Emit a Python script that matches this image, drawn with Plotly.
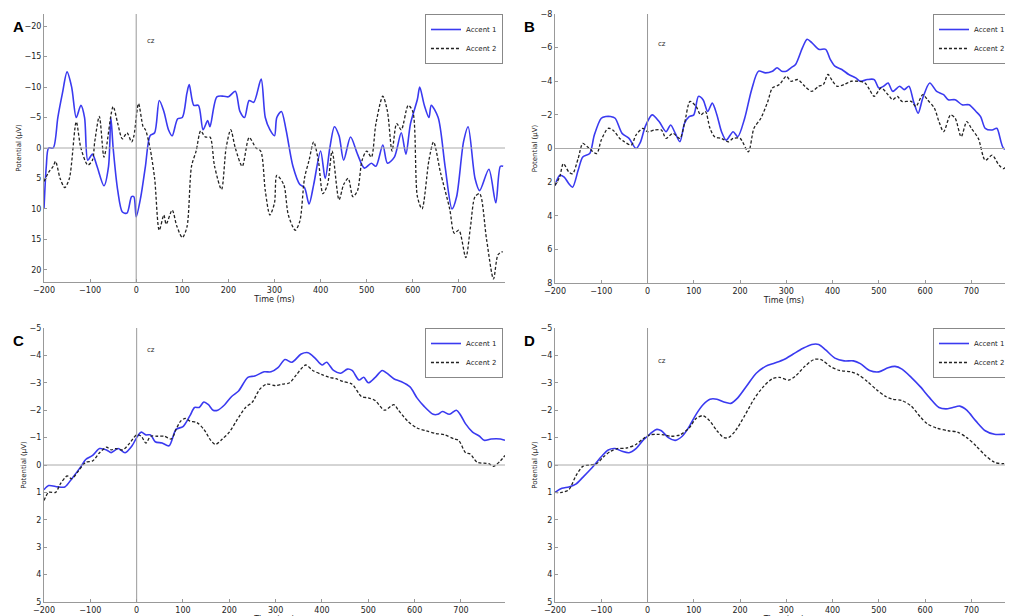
import plotly.graph_objects as go

# ---- Panel A ----
a_blue_t = [-200,-195,-190,-180,-170,-160,-150,-140,-130,-120,-112,-105,-95,-85,-70,-60,-55,-50,-40,-30,-20,-10,-5,0,10,20,30,40,50,60,70,78,90,100,110,115,125,135,145,155,160,175,190,200,215,225,235,245,255,271,280,290,300,305,315,325,340,355,365,375,385,400,410,420,430,440,450,465,480,495,510,520,535,545,560,575,585,595,610,615,625,635,640,655,670,685,695,710,720,735,745,765,780,790,796]
a_blue_v = [10,3,0,0,-5,-9,-12.5,-10,-5,-7,-5,2,1,3,6.2,3,-5,0,7,10.5,10.7,8,8,11.3,8,3,-2,-2.5,-7.8,-6,-3,-2,-4.8,-5,-9,-10.4,-7,-7,-3,-4.5,-3.5,-8.4,-8.5,-8.4,-9.3,-6,-5,-7.8,-7.5,-11.3,-5,-3,-2,-5,-6,-3,3,6,6.5,9.2,6,0.5,5,0,-3.5,-2,2,-1.8,1,3.3,2.5,3,-0.5,2.5,1.5,-2.5,1,-4,-8,-10,-7,-5,-7,-5,3,10,8,-1,-3.5,5,7,3.5,9,3,3]
a_black_t = [-200,-190,-180,-175,-165,-155,-145,-130,-120,-105,-95,-90,-80,-70,-65,-50,-40,-30,-20,-10,-5,5,15,20,30,40,50,60,65,78,88,100,110,120,130,140,150,160,170,185,195,205,215,230,245,260,270,280,290,300,305,320,330,345,355,365,375,385,395,405,415,425,440,450,460,470,480,490,500,510,520,535,545,555,565,575,590,600,610,620,635,645,660,680,690,700,715,725,735,745,760,775,785,795]
a_black_v = [5.5,4,3,2.2,5,6.5,5,-4.3,0,2.8,2,-1,-5.2,1.5,0,-6.8,-4,-1.5,-2.5,-1,-2,-7.3,-3.5,-3,0,5,13.5,11,12.5,10.2,12.8,14.7,13,3,0.5,-2.8,-1.8,-1.8,3,6.8,0,-3,0,3,-1.7,0,0.5,7,11,9,4.5,6,11,13.5,12,5,2,-1,2,7.5,6,0.5,8.5,6,5,8,7,2,0.5,1.5,-4,-8.5,-6,0.5,-4,-3,-7,-6,8,10,2,-1,4,10,14,13.5,18,13,8,7.5,15,21.5,17.5,17]

# ---- Panel B ----
b_blue_t = [-200,-190,-180,-170,-162,-150,-140,-125,-115,-100,-90,-80,-70,-55,-40,-25,-15,-5,10,25,40,50,60,70,80,90,100,110,120,130,140,150,160,170,185,195,210,225,240,255,270,280,290,300,310,320,335,345,355,370,385,395,405,420,435,450,460,475,490,500,510,520,530,545,555,565,575,585,595,610,625,640,650,665,680,695,710,720,730,745,755,770,790]
b_blue_v = [2.2,1.6,1.7,2.1,2.3,1.3,0.5,0.3,-0.8,-1.8,-1.9,-1.9,-1.8,-0.9,-0.6,0,-0.4,-1.3,-2,-1.6,-1.0,-1.4,-0.9,-0.4,-1.5,-1.9,-2.0,-3.1,-2.9,-2.2,-2.7,-2.0,-1.0,-0.5,-1.0,-0.7,-1.8,-3.5,-4.6,-4.5,-4.6,-4.8,-4.6,-4.6,-4.8,-5.0,-6.0,-6.5,-6.3,-5.9,-5.9,-5.3,-4.9,-4.7,-4.4,-4.2,-4.0,-4.1,-4.1,-3.6,-3.7,-3.9,-3.4,-3.7,-3.5,-3.7,-2.8,-2.1,-3.0,-3.9,-3.4,-3.2,-2.9,-2.9,-2.6,-2.6,-2.2,-1.9,-1.2,-1.1,-1.2,0,0]
b_black_t = [-200,-190,-182,-170,-162,-150,-140,-130,-110,-100,-85,-75,-60,-50,-35,-25,-10,0,15,30,40,55,70,80,92,105,115,125,135,145,160,175,185,200,218,230,245,260,270,285,300,310,325,340,355,370,380,390,400,410,425,440,455,470,480,490,505,520,530,540,550,570,580,595,605,620,630,640,655,665,678,690,700,715,730,745,760,770,785,795]
b_black_v = [2.2,1.7,0.9,1.4,1.5,0.6,-0.3,-0.1,0.3,-0.5,-1.2,-1.1,-0.6,-0.4,-0.2,-0.8,-1.2,-1.0,-1.1,-1.1,-0.6,-0.9,-0.6,-1.5,-2.8,-2.5,-2.0,-2.2,-1.2,-0.7,-0.6,-0.4,-0.6,-0.6,0.2,-1.2,-1.8,-2.8,-3.6,-3.8,-4.3,-4.0,-4.1,-3.7,-3.4,-3.7,-3.8,-4.4,-4.0,-3.7,-3.8,-4.0,-4.0,-3.9,-3.5,-3.1,-3.6,-3.2,-2.9,-3.1,-2.8,-2.8,-2.5,-3.2,-2.9,-2.4,-1.6,-1.0,-2.0,-1.8,-0.7,-1.6,-1.2,-0.6,0.7,0.4,1.0,1.2,0.6,0.5]

# ---- Panel C ----
c_blue_t = [-200,-190,-170,-155,-140,-120,-110,-95,-80,-65,-55,-40,-25,-10,0,10,20,30,40,55,70,85,100,115,125,135,145,155,165,175,190,205,220,240,255,275,290,305,320,335,355,370,385,400,410,425,440,455,465,480,490,500,515,530,540,555,570,590,605,620,640,650,660,675,690,700,710,725,740,750,765,785,795]
c_blue_v = [0.9,0.75,0.8,0.8,0.5,0.05,-0.2,-0.35,-0.6,-0.55,-0.45,-0.6,-0.45,-0.7,-1.0,-1.2,-1.1,-1.1,-0.85,-0.8,-0.7,-1.3,-1.4,-1.8,-2.1,-2.1,-2.3,-2.2,-2.0,-2.0,-2.2,-2.5,-2.7,-3.2,-3.25,-3.4,-3.4,-3.55,-3.85,-3.75,-4.05,-4.1,-3.9,-3.65,-3.75,-3.45,-3.35,-3.5,-3.45,-3.1,-3.2,-3.0,-3.2,-3.45,-3.35,-3.15,-3.05,-2.85,-2.45,-2.15,-1.85,-1.85,-1.95,-1.85,-2.0,-1.8,-1.5,-1.2,-1.05,-0.9,-0.95,-0.95,-0.9]
c_black_t = [-200,-190,-175,-165,-150,-140,-125,-110,-95,-80,-65,-55,-45,-30,-15,0,10,20,30,45,60,75,85,95,105,115,130,145,160,170,185,200,215,235,250,265,280,300,315,330,345,365,380,400,415,430,445,465,485,500,515,535,555,565,585,605,625,645,665,685,695,710,720,735,760,770,785,795]
c_black_v = [1.3,1.0,1.0,0.7,0.4,0.5,0.2,-0.1,-0.15,-0.45,-0.65,-0.55,-0.6,-0.55,-0.8,-1.1,-1.05,-0.8,-1.05,-1.05,-1.05,-0.95,-1.3,-1.6,-1.7,-1.6,-1.55,-1.3,-0.9,-0.75,-0.95,-1.2,-1.6,-2.1,-2.3,-2.75,-2.95,-2.9,-2.95,-3.0,-3.3,-3.65,-3.45,-3.3,-3.2,-3.15,-3.05,-2.95,-2.5,-2.45,-2.35,-2.0,-2.2,-2.0,-1.6,-1.35,-1.25,-1.15,-1.1,-0.95,-0.9,-0.45,-0.4,-0.1,-0.05,0.05,-0.15,-0.35]

# ---- Panel D ----
d_blue_t = [-200,-185,-170,-155,-140,-120,-100,-85,-70,-55,-40,-25,-10,0,10,20,30,45,60,75,90,105,120,135,150,165,180,195,215,235,255,275,295,315,335,355,370,385,405,425,445,460,480,500,520,535,550,570,590,610,630,645,660,675,690,710,730,750,770,790]
d_blue_v = [1.0,0.85,0.8,0.7,0.45,0.1,-0.3,-0.55,-0.6,-0.5,-0.45,-0.6,-0.9,-1.05,-1.2,-1.3,-1.25,-1.0,-0.9,-1.05,-1.4,-1.85,-2.2,-2.4,-2.4,-2.3,-2.25,-2.45,-2.9,-3.35,-3.6,-3.72,-3.85,-4.05,-4.25,-4.4,-4.4,-4.2,-3.9,-3.8,-3.8,-3.7,-3.45,-3.4,-3.55,-3.6,-3.5,-3.2,-2.85,-2.45,-2.1,-2.05,-2.1,-2.15,-2.0,-1.6,-1.25,-1.12,-1.12,-1.15]
d_black_t = [-200,-185,-170,-155,-140,-125,-110,-95,-80,-65,-45,-25,-10,5,20,35,50,70,90,105,120,135,150,165,175,190,210,230,250,270,285,305,320,340,360,375,395,415,440,455,475,495,515,530,550,570,590,605,625,650,670,690,710,730,750,770,785,795]
d_black_v = [1.0,1.0,0.9,0.4,0.05,0.0,-0.05,-0.3,-0.5,-0.6,-0.62,-0.75,-0.95,-1.1,-1.12,-1.1,-1.05,-1.1,-1.35,-1.7,-1.8,-1.6,-1.25,-1.0,-1.0,-1.25,-1.8,-2.4,-2.85,-3.15,-3.2,-3.1,-3.25,-3.6,-3.85,-3.85,-3.6,-3.45,-3.4,-3.3,-3.05,-2.75,-2.5,-2.4,-2.35,-2.15,-1.75,-1.5,-1.35,-1.25,-1.2,-1.0,-0.7,-0.35,-0.1,-0.05,-0.2,-0.3]

x_ticks = [-200, -100, 0, 100, 200, 300, 400, 500, 600, 700]
series_names = ["Accent 1", "Accent 2"]
panel_letters = ["A", "B", "C", "D"]

W, H, OFF = 1013, 616, 8  # page offset of the figure inside the browser window


def px_x(p):
    return (p - OFF) / W


def px_y(p):
    return 1 - (p - OFF) / H


panels = [
    dict(bt=a_blue_t, bv=a_blue_v, kt=a_black_t, kv=a_black_v, yr=[22, -22], ticks=[-20,-15,-10,-5,0,5,10,15,20],
         xd=[px_x(44), px_x(505)], yd=[px_y(282), px_y(14)], xr=[-200, 800], cz=-17.5),
    dict(bt=b_blue_t, bv=b_blue_v, kt=b_black_t, kv=b_black_v, yr=[8, -8], ticks=[-8,-6,-4,-2,0,2,4,6,8],
         xd=[px_x(555), px_x(1013)], yd=[px_y(283), px_y(14)], xr=[-200, 790], cz=-6.2),
    dict(bt=c_blue_t, bv=c_blue_v, kt=c_black_t, kv=c_black_v, yr=[5, -5], ticks=[-5,-4,-3,-2,-1,0,1,2,3,4,5],
         xd=[px_x(44), px_x(505)], yd=[px_y(602), px_y(328)], xr=[-200, 795], cz=-4.2),
    dict(bt=d_blue_t, bv=d_blue_v, kt=d_black_t, kv=d_black_v, yr=[5, -5], ticks=[-5,-4,-3,-2,-1,0,1,2,3,4,5],
         xd=[px_x(555), px_x(1013)], yd=[px_y(602), px_y(328)], xr=[-200, 790], cz=-3.8),
]

fig = go.Figure()
layout = dict(width=W, height=H, margin=dict(l=0, r=0, t=0, b=0),
              paper_bgcolor="white", plot_bgcolor="white",
              font=dict(family="DejaVu Sans", size=8, color="#222"), showlegend=True)
shapes, annotations = [], []
for i, p in enumerate(panels):
    n = "" if i == 0 else str(i + 1)
    xa, ya = "x" + n, "y" + n
    lg = "legend" + n
    fig.add_trace(go.Scatter(x=p["bt"], y=p["bv"], mode="lines", name=series_names[0],
                             line=dict(color="#3a3af0", width=1.6, shape="spline", smoothing=0.8),
                             xaxis=xa, yaxis=ya, legend=lg))
    fig.add_trace(go.Scatter(x=p["kt"], y=p["kv"], mode="lines", name=series_names[1],
                             line=dict(color="#222", width=1.3, dash="3px,2px", shape="spline", smoothing=0.8),
                             xaxis=xa, yaxis=ya, legend=lg))
    layout["xaxis" + n] = dict(domain=p["xd"], range=p["xr"], anchor=ya, tickvals=x_ticks, automargin=False,
                               showgrid=False, zeroline=False, showline=True, linecolor="#999",
                               ticks="inside", ticklen=3, tickcolor="#999", tickfont=dict(size=8),
                               title=dict(text="Time (ms)", font=dict(size=8), standoff=0))
    layout["yaxis" + n] = dict(domain=p["yd"], range=p["yr"], anchor=xa, tickvals=p["ticks"], automargin=False,
                               showgrid=False, zeroline=False, showline=True, linecolor="#999",
                               ticks="inside", ticklen=3, tickcolor="#999", tickfont=dict(size=8),
                               title=dict(text="Potential (µV)", font=dict(size=7), standoff=2))
    layout[lg] = dict(x=p["xd"][1] - 0.002, y=p["yd"][1], xanchor="right", yanchor="top",
                      bordercolor="#888", borderwidth=1, bgcolor="white",
                      font=dict(size=7), tracegroupgap=0, itemwidth=30)
    shapes.append(dict(type="line", xref=xa, yref=ya + " domain", x0=0, x1=0, y0=0, y1=1,
                       line=dict(color="#999", width=1)))
    shapes.append(dict(type="line", xref=xa + " domain", yref=ya, x0=0, x1=1, y0=0, y1=0,
                       line=dict(color="#aaa", width=1)))
    annotations.append(dict(text="cz", x=18, y=p["cz"], xref=xa, yref=ya, showarrow=False,
                            xanchor="left", font=dict(size=7)))
    annotations.append(dict(text="<b>" + panel_letters[i] + "</b>", x=p["xd"][0] - 0.033,
                            y=p["yd"][1] - 0.003, xref="paper", yref="paper", showarrow=False,
                            xanchor="left", yanchor="top", font=dict(size=15, color="black",
                                                                    family="Liberation Sans")))
layout["shapes"] = shapes
layout["annotations"] = annotations
fig.update_layout(**layout)
fig.write_html("out.html")
